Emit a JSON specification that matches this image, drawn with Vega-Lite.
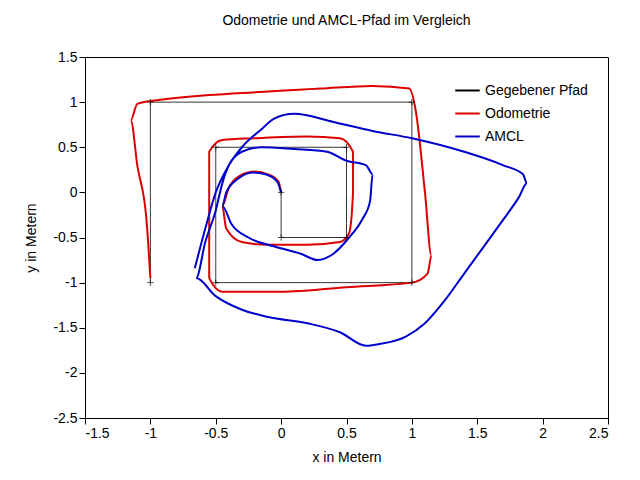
{
"$schema":"https://vega.github.io/schema/vega-lite/v6.json",
"autosize":"none","width":523,"height":361,
"padding":{"left":85,"top":57,"right":32,"bottom":62},
"background":"white",
"title":{"text":"Odometrie und AMCL-Pfad im Vergleich","font":"Liberation Sans","fontSize":14,"fontWeight":"normal","offset":22},
"config":{"view":{"stroke":"black","strokeWidth":1},"font":"Liberation Sans",
"axis":{"grid":false,"domainColor":"black","tickColor":"black","labelFont":"Liberation Sans","labelFontSize":14,"titleFont":"Liberation Sans","titleFontSize":14,"titleFontWeight":"normal","labelColor":"black","tickSize":6,"labelExpr":"replace(format(datum.value,'~g'),'−','-')"}},
"data":{"values":[
{"s":"Gegebener Pfad","i":0,"x":0,"y":0},{"s":"Gegebener Pfad","i":1,"x":0,"y":-0.5},{"s":"Gegebener Pfad","i":2,"x":0.5,"y":-0.5},{"s":"Gegebener Pfad","i":3,"x":0.5,"y":0.5},{"s":"Gegebener Pfad","i":4,"x":-0.5,"y":0.5},{"s":"Gegebener Pfad","i":5,"x":-0.5,"y":-1},{"s":"Gegebener Pfad","i":6,"x":1,"y":-1},{"s":"Gegebener Pfad","i":7,"x":1,"y":1},{"s":"Gegebener Pfad","i":8,"x":-1,"y":1},{"s":"Gegebener Pfad","i":9,"x":-1,"y":-1},
{"s":"Odometrie","i":0,"x":0,"y":0},{"s":"Odometrie","i":1,"x":-0.02,"y":0.12},{"s":"Odometrie","i":2,"x":-0.1,"y":0.2},{"s":"Odometrie","i":3,"x":-0.2,"y":0.23},{"s":"Odometrie","i":4,"x":-0.32,"y":0.18},{"s":"Odometrie","i":5,"x":-0.4,"y":0.05},{"s":"Odometrie","i":6,"x":-0.45,"y":-0.15},{"s":"Odometrie","i":7,"x":-0.42,"y":-0.4},{"s":"Odometrie","i":8,"x":-0.3,"y":-0.55},{"s":"Odometrie","i":9,"x":-0.1,"y":-0.58},{"s":"Odometrie","i":10,"x":0.2,"y":-0.58},{"s":"Odometrie","i":11,"x":0.45,"y":-0.55},{"s":"Odometrie","i":12,"x":0.52,"y":-0.45},{"s":"Odometrie","i":13,"x":0.55,"y":0.0},{"s":"Odometrie","i":14,"x":0.55,"y":0.45},{"s":"Odometrie","i":15,"x":0.45,"y":0.6},{"s":"Odometrie","i":16,"x":0.2,"y":0.62},{"s":"Odometrie","i":17,"x":-0.2,"y":0.6},{"s":"Odometrie","i":18,"x":-0.45,"y":0.58},{"s":"Odometrie","i":19,"x":-0.55,"y":0.45},{"s":"Odometrie","i":20,"x":-0.55,"y":0.0},{"s":"Odometrie","i":21,"x":-0.55,"y":-0.5},{"s":"Odometrie","i":22,"x":-0.55,"y":-0.95},{"s":"Odometrie","i":23,"x":-0.45,"y":-1.1},{"s":"Odometrie","i":24,"x":0.0,"y":-1.1},{"s":"Odometrie","i":25,"x":0.5,"y":-1.05},{"s":"Odometrie","i":26,"x":1.0,"y":-1.0},{"s":"Odometrie","i":27,"x":1.12,"y":-0.9},{"s":"Odometrie","i":28,"x":1.15,"y":-0.7},{"s":"Odometrie","i":29,"x":1.1,"y":0.0},{"s":"Odometrie","i":30,"x":1.03,"y":0.9},{"s":"Odometrie","i":31,"x":0.98,"y":1.15},{"s":"Odometrie","i":32,"x":0.7,"y":1.18},{"s":"Odometrie","i":33,"x":0.3,"y":1.15},{"s":"Odometrie","i":34,"x":-0.3,"y":1.1},{"s":"Odometrie","i":35,"x":-0.95,"y":1.02},{"s":"Odometrie","i":36,"x":-1.1,"y":0.98},{"s":"Odometrie","i":37,"x":-1.15,"y":0.8},{"s":"Odometrie","i":38,"x":-1.1,"y":0.3},{"s":"Odometrie","i":39,"x":-1.03,"y":-0.3},{"s":"Odometrie","i":40,"x":-1.0,"y":-0.95},
{"s":"AMCL","i":0,"x":0,"y":0},{"s":"AMCL","i":1,"x":-0.03,"y":0.12},{"s":"AMCL","i":2,"x":-0.12,"y":0.2},{"s":"AMCL","i":3,"x":-0.22,"y":0.22},{"s":"AMCL","i":4,"x":-0.33,"y":0.15},{"s":"AMCL","i":5,"x":-0.42,"y":0.0},{"s":"AMCL","i":6,"x":-0.45,"y":-0.15},{"s":"AMCL","i":7,"x":-0.38,"y":-0.35},{"s":"AMCL","i":8,"x":-0.25,"y":-0.5},{"s":"AMCL","i":9,"x":-0.05,"y":-0.6},{"s":"AMCL","i":10,"x":0.15,"y":-0.68},{"s":"AMCL","i":11,"x":0.28,"y":-0.75},{"s":"AMCL","i":12,"x":0.4,"y":-0.68},{"s":"AMCL","i":13,"x":0.52,"y":-0.5},{"s":"AMCL","i":14,"x":0.62,"y":-0.3},{"s":"AMCL","i":15,"x":0.68,"y":-0.1},{"s":"AMCL","i":16,"x":0.7,"y":0.2},{"s":"AMCL","i":17,"x":0.65,"y":0.3},{"s":"AMCL","i":18,"x":0.5,"y":0.35},{"s":"AMCL","i":19,"x":0.35,"y":0.45},{"s":"AMCL","i":20,"x":0.1,"y":0.48},{"s":"AMCL","i":21,"x":-0.15,"y":0.5},{"s":"AMCL","i":22,"x":-0.3,"y":0.45},{"s":"AMCL","i":23,"x":-0.4,"y":0.3},{"s":"AMCL","i":24,"x":-0.45,"y":0.1},{"s":"AMCL","i":25,"x":-0.5,"y":-0.2},{"s":"AMCL","i":26,"x":-0.58,"y":-0.55},{"s":"AMCL","i":27,"x":-0.65,"y":-0.95},{"s":"AMCL","i":28,"x":-0.5,"y":-1.15},{"s":"AMCL","i":29,"x":-0.3,"y":-1.3},{"s":"AMCL","i":30,"x":-0.1,"y":-1.38},{"s":"AMCL","i":31,"x":0.2,"y":-1.45},{"s":"AMCL","i":32,"x":0.45,"y":-1.55},{"s":"AMCL","i":33,"x":0.65,"y":-1.7},{"s":"AMCL","i":34,"x":0.75,"y":-1.68},{"s":"AMCL","i":35,"x":0.95,"y":-1.6},{"s":"AMCL","i":36,"x":1.1,"y":-1.45},{"s":"AMCL","i":37,"x":1.25,"y":-1.2},{"s":"AMCL","i":38,"x":1.4,"y":-0.9},{"s":"AMCL","i":39,"x":1.55,"y":-0.6},{"s":"AMCL","i":40,"x":1.7,"y":-0.3},{"s":"AMCL","i":41,"x":1.82,"y":-0.05},{"s":"AMCL","i":42,"x":1.88,"y":0.1},{"s":"AMCL","i":43,"x":1.85,"y":0.2},{"s":"AMCL","i":44,"x":1.7,"y":0.3},{"s":"AMCL","i":45,"x":1.4,"y":0.45},{"s":"AMCL","i":46,"x":1.0,"y":0.6},{"s":"AMCL","i":47,"x":0.7,"y":0.68},{"s":"AMCL","i":48,"x":0.4,"y":0.78},{"s":"AMCL","i":49,"x":0.1,"y":0.87},{"s":"AMCL","i":50,"x":-0.05,"y":0.82},{"s":"AMCL","i":51,"x":-0.15,"y":0.7},{"s":"AMCL","i":52,"x":-0.3,"y":0.5},{"s":"AMCL","i":53,"x":-0.4,"y":0.3},{"s":"AMCL","i":54,"x":-0.5,"y":0.0},{"s":"AMCL","i":55,"x":-0.58,"y":-0.4},{"s":"AMCL","i":56,"x":-0.66,"y":-0.84}
]},
"layer":[
{"mark":{"type":"line","interpolate":"monotone"},
"encoding":{
"x":{"field":"x","type":"quantitative","scale":{"domain":[-1.5,2.5],"nice":false},"axis":{"values":[-1.5,-1,-0.5,0,0.5,1,1.5,2,2.5],"title":"x in Metern","titlePadding":10}},
"y":{"field":"y","type":"quantitative","scale":{"domain":[-2.5,1.5],"nice":false},"axis":{"values":[-2.5,-2,-1.5,-1,-0.5,0,0.5,1,1.5],"title":"y in Metern","titlePadding":14}},
"order":{"field":"i","type":"quantitative"},
"color":{"field":"s","type":"nominal","scale":{"domain":["Gegebener Pfad","Odometrie","AMCL"],"range":["black","#dd0000","#0000cc"]},
"legend":{"title":null,"orient":"top-right","symbolType":"stroke","symbolSize":600,"symbolStrokeWidth":2,"labelFontSize":14,"labelFont":"Liberation Sans","padding":2,"rowPadding":2}},
"strokeWidth":{"condition":{"test":"datum.s==='Gegebener Pfad'","value":0.8},"value":2}}},
{"mark":{"type":"point","shape":"M-1,0L1,0M0,-1L0,1","size":40,"strokeWidth":1,"color":"black"},
"transform":[{"filter":"datum.s==='Gegebener Pfad'"}],
"encoding":{"x":{"field":"x","type":"quantitative"},"y":{"field":"y","type":"quantitative"}}}
]
}
